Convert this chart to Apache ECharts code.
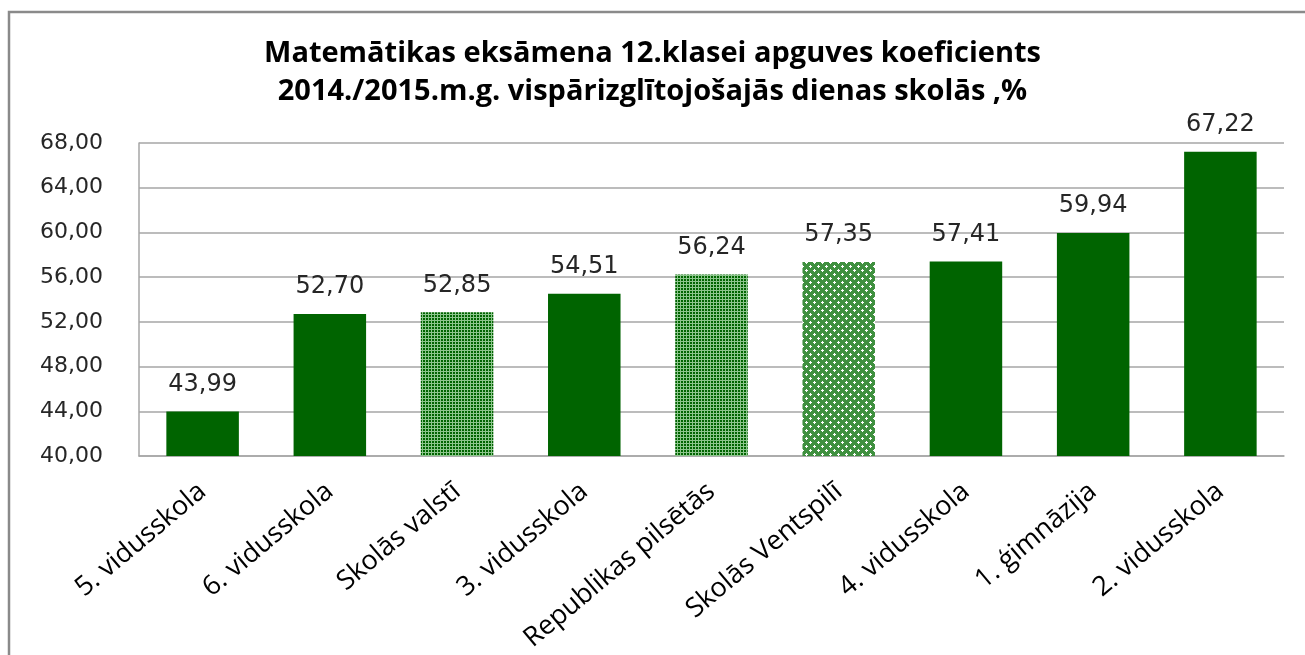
<!DOCTYPE html>
<html>
<head>
<meta charset="utf-8">
<script src="https://cdn.jsdelivr.net/npm/echarts@6/dist/echarts.min.js"></script>
<style>
  html, body { margin: 0; padding: 0; background: #fff; }
  #chart { width: 1305px; height: 655px; }
</style>
</head>
<body>
<div id="chart"></div>
<script>
// dati
var categories = ['5. vidusskola', '6. vidusskola', 'Skolās valstī', '3. vidusskola', 'Republikas pilsētās', 'Skolās Ventspilī', '4. vidusskola', '1. ģimnāzija', '2. vidusskola']
var values = [43.99, 52.70, 52.85, 54.51, 56.24, 57.35, 57.41, 59.94, 67.22]
var yTicks = [40, 44, 48, 52, 56, 60, 64, 68]

// raksti (pattern) stabiņiem
function makeDots() {
  var c = document.createElement('canvas')
  c.width = 3
  c.height = 3
  var ctx = c.getContext('2d')
  ctx.fillStyle = '#8cc58c'
  ctx.fillRect(0, 0, 3, 3)
  ctx.fillStyle = '#006400'
  ctx.fillRect(0, 0, 2, 2)
  return c
}
function makeCrosses() {
  var c = document.createElement('canvas')
  c.width = 8
  c.height = 8
  var ctx = c.getContext('2d')
  ctx.fillStyle = '#3f903f'
  ctx.fillRect(0, 0, 8, 8)
  ctx.fillStyle = '#ffffff'
  ;[[2, 2], [6, 6]].forEach(function (p) {
    ctx.fillRect(p[0] - 1, p[1], 3, 1)
    ctx.fillRect(p[0], p[1] - 1, 1, 3)
  })
  return c
}
var dots = { image: makeDots(), repeat: 'repeat' }
var crosses = { image: makeCrosses(), repeat: 'repeat' }
var fillByName = {
  'Skolās valstī': dots,
  'Republikas pilsētās': dots,
  'Skolās Ventspilī': crosses
}

function fmt(v) {
  return v.toFixed(2).replace('.', ',')
}

var chart = echarts.init(document.getElementById('chart'))
var option = {
  backgroundColor: '#fff',
  animation: false,
  title: {
    text: 'Matemātikas eksāmena 12.klasei apguves koeficients\n2014./2015.m.g. vispārizglītojošajās dienas skolās ,%',
    left: 'center',
    top: 30,
    textStyle: {
      fontFamily: 'Open Sans',
      fontWeight: 'bold',
      fontSize: 29,
      lineHeight: 38,
      color: '#000'
    }
  },
  // rāmis
  graphic: [
    {
      type: 'rect',
      shape: { x: 9, y: 12, width: 1310, height: 700 },
      style: { fill: null, stroke: '#8a8a8a', lineWidth: 2.5 },
      silent: true
    }
  ],
  grid: {
    left: 139,
    right: 21,
    top: 143,
    bottom: 199,
    outerBoundsMode: 'none'
  },
  xAxis: {
    type: 'category',
    data: categories,
    axisLine: { lineStyle: { color: '#a6a6a6', width: 1.5 } },
    axisTick: { show: false },
    axisLabel: {
      interval: 0,
      rotate: 40,
      margin: 32,
      fontFamily: 'Open Sans',
      fontSize: 27,
      color: '#000'
    }
  },
  yAxis: {
    type: 'value',
    min: yTicks[0],
    max: yTicks[yTicks.length - 1],
    interval: yTicks[1] - yTicks[0],
    axisLine: { show: true, lineStyle: { color: '#a6a6a6', width: 1.5 } },
    axisTick: { show: false },
    splitLine: { lineStyle: { color: '#a6a6a6', width: 1.5 } },
    axisLabel: {
      margin: 36,
      fontFamily: 'DejaVu Sans',
      fontSize: 22,
      color: '#262626',
      formatter: fmt
    }
  },
  series: [
    {
      type: 'bar',
      barWidth: '57%',
      data: values.map(function (v, i) {
        var fill = fillByName[categories[i]]
        return fill ? { value: v, itemStyle: { color: fill } } : v
      }),
      itemStyle: { color: '#006400' },
      label: {
        show: true,
        position: 'top',
        distance: 15,
        fontFamily: 'DejaVu Sans',
        fontSize: 24,
        color: '#262626',
        formatter: function (p) {
          return fmt(p.value)
        }
      }
    }
  ]
}
chart.setOption(option)
</script>
</body>
</html>
